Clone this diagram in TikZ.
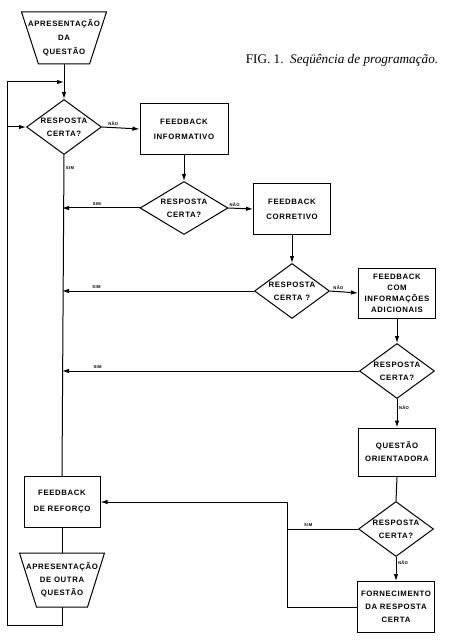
\documentclass[tikz,border=0pt]{standalone}
\usepackage{fontspec}
\setmainfont{Liberation Serif}
\newfontfamily\flowfont[LetterSpace=8]{Liberation Sans}
\usetikzlibrary{shapes.geometric,arrows.meta}

\begin{document}
\begin{tikzpicture}[x=1pt,y=-1pt,line width=1pt,
    every node/.style={align=center,inner sep=1pt,font=\flowfont\bfseries\fontsize{7.8}{13}\selectfont},
    box/.style={draw,rectangle,minimum width=77pt,minimum height=51pt},
    tight/.style={font=\flowfont\bfseries\fontsize{7.8}{11}\selectfont},
    ask/.style={draw,diamond,aspect=1.4,minimum width=75pt,minimum height=55pt,inner sep=0pt},
    trap/.style={rectangle,minimum width=84pt,minimum height=51pt},
    lbl/.style={font=\flowfont\bfseries\fontsize{4.2}{5}\selectfont,inner sep=1.5pt},
    arr/.style={-{Latex[length=7pt,width=4.5pt]}}]
    \useasboundingbox (0,0) rectangle (454,644);

    \node[font=\rmfamily\fontsize{13.2}{15}\selectfont,inner sep=0pt] (cap) at (342,60) {FIG.\ 1.\ \ \textit{Seqüência de programação.}};

    \node[trap] (q1) at (64,38) {APRESENTAÇÃO\\[1pt]DA\\[1pt]QUESTÃO};
    \node[ask] (d1) at (64,127) {RESPOSTA\\CERTA?};
    \node[box,minimum width=88pt] (f1) at (184,129) {FEEDBACK\\[2pt]INFORMATIVO};
    \node[ask,minimum width=88pt,minimum height=53pt] (d2) at (184,208) {RESPOSTA\\CERTA?};
    \node[box] (f2) at (292,209) {FEEDBACK\\[2pt]CORRETIVO};
    \node[ask] (d3) at (292,291) {RESPOSTA\\CERTA ?};
    \node[box,tight,minimum height=50pt] (f3) at (397,293) {FEEDBACK\\COM\\INFORMAÇÕES\\ADICIONAIS};
    \node[ask] (d4) at (397,371) {RESPOSTA\\CERTA?};
    \node[box,minimum height=48pt] (qo) at (397,452) {QUESTÃO\\ORIENTADORA};
    \node[ask] (d5) at (396,529) {RESPOSTA\\CERTA?};
    \node[box] (fc) at (396,607) {FORNECIMENTO\\DA RESPOSTA\\CERTA};
    \node[box,minimum width=76pt] (fr) at (62,502) {FEEDBACK\\[3pt]DE REFORÇO};
    \node[trap,minimum height=53pt] (q3) at (62,580) {APRESENTAÇÃO\\DE OUTRA\\QUESTÃO};

    \foreach \t in {q1,q3}
        \draw (\t.north west) -- (\t.north east) -- ([xshift=-17pt]\t.south east) -- ([xshift=17pt]\t.south west) -- cycle;

    \coordinate (top) at (7,82);
    \coordinate (bot) at (7,625);
    \coordinate (jn) at (287,529);

    \draw[arr] (q1.south) -- (d1.north);
    \draw[arr] (d1.east) -- node[lbl,pos=0.3,above]{NÃO} (f1.west);
    \draw[arr] (f1.south) -- (d2.north);
    \draw[arr] (d2.east) -- node[lbl,pos=0.25,above]{NÃO} (f2.west);
    \draw[arr] (f2.south) -- (d3.north);
    \draw[arr] (d3.east) -- node[lbl,pos=0.3,above]{NÃO} (f3.west);
    \draw[arr] (f3.south) -- (d4.north);
    \draw[arr] (d4.south) -- node[lbl,pos=0.3,right]{NÃO} (qo.north);
    \draw (qo.south) -- (d5.north);
    \draw[arr] (d5.south) -- node[lbl,pos=0.25,right]{NÃO} (fc.north);

    \draw (d1.south) -- node[lbl,pos=0.04,right]{SIM} (fr.north);
    \draw[arr] (d2.west) -- node[lbl,pos=0.55,above]{SIM} (d2.west -| fr.north);
    \draw[arr] (d3.west) -- node[lbl,pos=0.82,above]{SIM} (d3.west -| fr.north);
    \draw[arr] (d4.west) -- node[lbl,pos=0.88,above]{SIM} (d4.west -| fr.north);
    \draw (d5.west) -- node[lbl,pos=0.7,above]{SIM} (jn);
    \draw[arr] (fc.west) -- (fc.west -| jn) -- (fr.east -| jn) -- (fr.east);

    \draw (fr.south) -- (q3.north);
    \draw[arr] (q3.south) |- (bot) -- (top) -- (top -| q1.south);
    \draw[arr] (top |- d1.west) -- (d1.west);
\end{tikzpicture}
\end{document}
